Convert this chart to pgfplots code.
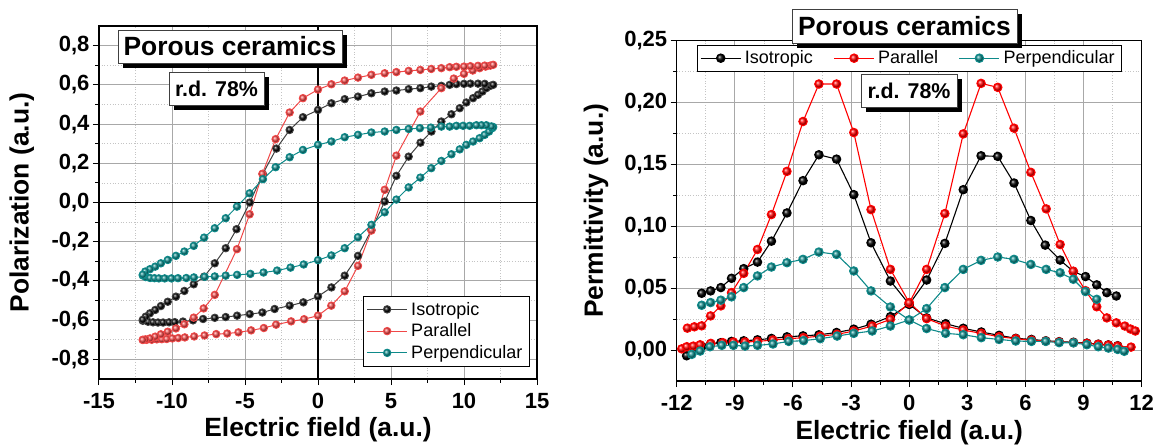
\documentclass[border=0pt]{standalone}
\usepackage{fontspec}
\setmainfont{Liberation Sans}
\usepackage{pgfplots}
\pgfplotsset{compat=1.18}
\usetikzlibrary{shadows}
\definecolor{cred}{HTML}{F04848}
\definecolor{cteal}{HTML}{0E8A8A}
\definecolor{gridgray}{HTML}{A8A8A8}
\definecolor{mgridgray}{HTML}{C4C4C4}
\pgfplotsset{
  common/.style={
    scale only axis,
    anchor=south west,
    axis line style={black, line width=1.1pt},
    tick align=outside,
    major tick length=6pt,
    minor tick length=3.5pt,
    every tick/.style={black, line width=1pt},
    xtick pos=bottom, ytick pos=left,
    grid=both,
    major grid style={gridgray, line width=0.9pt},
    minor grid style={mgridgray, line width=0.7pt, dotted},
    minor x tick num=1, minor y tick num=1,
    tick label style={font=\fontsize{22}{25}\selectfont\bfseries},
    xticklabel={\pgfmathprintnumber[assume math mode=true]{\tick}},
    yticklabel={\pgfmathprintnumber[assume math mode=true]{\tick}},
    xticklabel style={yshift=-5pt},
    label style={font=\fontsize{26.4}{30}\selectfont\bfseries},
    legend style={font=\fontsize{18}{21}\selectfont, draw=black, fill=white,
      inner xsep=3pt, inner ysep=2pt, row sep=0pt, nodes={inner sep=3.6pt}},
    legend cell align=left,
    legend image code/.code={\draw[mark repeat=2,mark phase=2,##1] plot coordinates {(0pt,0pt) (20pt,0pt) (40pt,0pt)};},
  },
}
\tikzset{
  box/.style={draw=black!75, line width=0.8pt, fill=white, inner sep=0pt,
    drop shadow={shadow xshift=5pt, shadow yshift=-5pt, fill=black, opacity=1}},
}
\begin{document}
\begin{tikzpicture}
% ---------------- left: hysteresis ----------------
\begin{axis}[common, at={(99pt,66pt)}, width=438pt, height=353pt,
  xmin=-15, xmax=15, ymin=-0.9, ymax=0.9,
  xtick={-15,-10,-5,0,5,10,15},
  ytick={-0.8,-0.6,-0.4,-0.2,0,0.2,0.4,0.6,0.8},
  yticklabel style={/pgf/number format/.cd, fixed, fixed zerofill, precision=1, use comma},
  extra x ticks={0}, extra y ticks={0}, extra x tick labels={}, extra y tick labels={},
  extra tick style={grid=major, major grid style={black, line width=1.1pt}, major tick length=0pt},
  xlabel={Electric field (a.u.)}, ylabel={Polarization (a.u.)},
  xlabel style={at={(axis description cs:0.5,-0.1445)}, anchor=center},
  ylabel style={at={(axis description cs:-0.176,0.5)}, anchor=center},
  legend style={at={(0.982,0.037)}, anchor=south east},
]
\addplot[color=black!75, line width=1pt, mark=ball, mark size=3.7pt, mark options={ball color=black}] coordinates {
(-12.0,-0.603) (-11.64,-0.608) (-11.3,-0.611) (-10.96,-0.612) (-10.61,-0.612) (-10.2,-0.611) (-9.81,-0.610) (-9.25,-0.607) (-8.56,-0.601) (-7.87,-0.594) (-7.07,-0.588) (-6.32,-0.584) (-5.54,-0.577) (-4.67,-0.569) (-3.81,-0.561) (-2.97,-0.543) (-1.94,-0.526) (-1.0,-0.509) (0,-0.479) (0.92,-0.433) (1.83,-0.373) (2.74,-0.272) (3.66,-0.14) (4.57,0.005) (5.37,0.136) (6.21,0.234) (7.02,0.305) (7.77,0.362) (8.45,0.413) (9.14,0.45) (9.71,0.481) (10.16,0.51) (10.62,0.532) (10.96,0.549) (11.26,0.566) (11.53,0.583) (11.81,0.595) (12.0,0.600)
(11.42,0.605) (10.96,0.606) (10.44,0.606) (10.0,0.605) (9.48,0.604) (9.02,0.600) (8.45,0.595) (7.76,0.591) (7.01,0.583) (6.21,0.578) (5.37,0.571) (4.57,0.566) (3.66,0.557) (2.74,0.540) (1.83,0.527) (0.92,0.506) (0,0.472) (-1.03,0.435) (-1.94,0.37) (-2.85,0.275) (-3.78,0.146) (-4.67,0.0) (-5.58,-0.136) (-6.32,-0.233) (-7.07,-0.31) (-7.8,-0.378) (-8.51,-0.417) (-9.15,-0.451) (-9.73,-0.48) (-10.29,-0.506) (-10.76,-0.528) (-11.15,-0.548) (-11.51,-0.565) (-11.8,-0.582) (-12.0,-0.598)
};
\addlegendentry{Isotropic}
\addplot[color=cred, line width=1pt, mark=ball, mark size=3.7pt, mark options={ball color=cred}] coordinates {
(-12.0,-0.700) (-11.73,-0.700) (-11.39,-0.700) (-11.04,-0.698) (-10.7,-0.697) (-10.36,-0.696) (-9.98,-0.693) (-9.57,-0.691) (-9.12,-0.688) (-8.48,-0.683) (-7.77,-0.678) (-6.97,-0.671) (-6.22,-0.668) (-5.45,-0.662) (-4.58,-0.652) (-3.71,-0.640) (-2.87,-0.623) (-1.84,-0.606) (-0.95,-0.595) (0,-0.577) (0.91,-0.526) (1.83,-0.453) (2.74,-0.323) (3.66,-0.143) (4.57,0.065) (5.37,0.239) (7.01,0.464) (8.45,0.583) (9.3,0.632) (10.0,0.656) (10.6,0.673) (11.07,0.685) (11.48,0.693) (11.8,0.698) (12.0,0.702)
(11.42,0.698) (10.96,0.697) (10.44,0.695) (10.0,0.693) (9.48,0.692) (9.02,0.690) (8.45,0.685) (7.76,0.681) (7.01,0.676) (6.21,0.671) (5.37,0.665) (4.57,0.659) (3.66,0.651) (2.74,0.637) (1.83,0.622) (0.92,0.603) (0,0.576) (-1.03,0.532) (-1.94,0.459) (-2.9,0.323) (-3.81,0.146) (-4.68,-0.06) (-5.55,-0.238) (-7.07,-0.471) (-7.83,-0.54) (-8.51,-0.587) (-9.15,-0.621) (-9.73,-0.642) (-10.29,-0.659) (-10.76,-0.672) (-11.15,-0.684) (-11.51,-0.693) (-11.83,-0.698) (-12.0,-0.701)
};
\addlegendentry{Parallel}
\addplot[color=cteal, line width=1pt, mark=ball, mark size=3.7pt, mark options={ball color=cteal}] coordinates {
(-12.0,-0.372) (-11.8,-0.38) (-11.5,-0.385) (-11.2,-0.386) (-10.9,-0.387) (-10.5,-0.387) (-10.04,-0.387) (-9.59,-0.386) (-9.02,-0.385) (-8.5,-0.382) (-7.76,-0.379) (-7.07,-0.377) (-6.32,-0.373) (-5.54,-0.369) (-4.63,-0.364) (-3.73,-0.357) (-2.8,-0.347) (-1.88,-0.332) (-0.98,-0.316) (0,-0.294) (0.92,-0.27) (1.83,-0.233) (2.74,-0.177) (3.66,-0.114) (4.57,-0.05) (5.37,0.015) (6.21,0.077) (7.01,0.127) (7.76,0.175) (8.45,0.212) (9.14,0.246) (9.71,0.271) (10.16,0.294) (10.62,0.311) (11.07,0.328) (11.42,0.345) (11.72,0.362) (11.93,0.379) (12.0,0.385)
(11.88,0.388) (11.53,0.394) (11.2,0.394) (10.85,0.394) (10.39,0.391) (9.94,0.391) (9.48,0.391) (9.02,0.387) (8.45,0.387) (7.73,0.382) (6.98,0.379) (6.21,0.375) (5.37,0.370) (4.57,0.362) (3.66,0.357) (2.74,0.345) (1.83,0.333) (0.92,0.311) (0,0.294) (-1.03,0.268) (-1.94,0.231) (-2.9,0.18) (-3.77,0.119) (-4.68,0.047) (-5.55,-0.021) (-6.32,-0.08) (-7.07,-0.131) (-7.8,-0.179) (-8.51,-0.221) (-9.15,-0.25) (-9.73,-0.272) (-10.29,-0.293) (-10.76,-0.31) (-11.15,-0.327) (-11.51,-0.34) (-11.83,-0.352) (-12.0,-0.368)
};
\addlegendentry{Perpendicular}
\end{axis}
% ---------------- right: permittivity ----------------
\begin{axis}[common, at={(676.7pt,64pt)}, width=465pt, height=340.3pt,
  xmin=-12, xmax=12, ymin=-0.025, ymax=0.25,
  xtick={-12,-9,-6,-3,0,3,6,9,12},
  ytick={0,0.05,0.1,0.15,0.2,0.25},
  scaled y ticks=false,
  yticklabel style={/pgf/number format/.cd, fixed, fixed zerofill, precision=2, use comma},
  xlabel={Electric field (a.u.)}, ylabel={Permittivity (a.u.)},
  xlabel style={at={(axis description cs:0.5,-0.153)}, anchor=center},
  ylabel style={at={(axis description cs:-0.1735,0.5)}, anchor=center},
  legend columns=3,
  legend style={at={(0.5,0.987)}, anchor=north, /tikz/every even column/.append style={column sep=17pt}},
]
\addplot[color=black, line width=1.1pt, mark=ball, mark size=4.2pt, mark options={ball color=black}] coordinates {
(-10.71,0.0459) (-10.25,0.0478) (-9.72,0.0505) (-9.17,0.058) (-8.54,0.0658) (-7.83,0.0711) (-7.11,0.088) (-6.31,0.1108) (-5.48,0.1369) (-4.66,0.1578) (-3.75,0.1543) (-2.86,0.1256) (-1.97,0.0867) (-0.97,0.0558) (0,0.037) (0.9,0.026) (1.88,0.0213) (2.79,0.0176) (3.72,0.0146) (4.64,0.0119) (5.5,0.0095) (6.31,0.0086) (7.05,0.0075) (7.74,0.0068) (8.48,0.0063) (9.17,0.0056) (9.76,0.0048) (10.28,0.0042) (10.76,0.0035)
};
\addlegendentry{Isotropic}
\addplot[forget plot, color=black, line width=1.1pt, mark=ball, mark size=4.2pt, mark options={ball color=black}] coordinates {
(-11.49,-0.0046) (-11.1,0.0015) (-10.71,0.003) (-10.25,0.005) (-9.72,0.006) (-9.17,0.007) (-8.54,0.0075) (-7.83,0.0083) (-7.11,0.0094) (-6.31,0.0107) (-5.48,0.0115) (-4.66,0.0123) (-3.75,0.0142) (-2.86,0.0169) (-1.97,0.0209) (-0.97,0.027) (0,0.037) (0.9,0.0566) (1.84,0.0862) (2.79,0.1296) (3.71,0.157) (4.57,0.1565) (5.41,0.135) (6.28,0.1047) (7.02,0.0848) (7.79,0.0727) (8.47,0.0635) (9.1,0.0594) (9.68,0.0527) (10.2,0.0464) (10.69,0.0437)
};
\addplot[color=red, line width=1.1pt, mark=ball, mark size=4.2pt, mark options={ball color=red}] coordinates {
(-11.45,0.0177) (-11.09,0.0188) (-10.71,0.0196) (-10.25,0.0276) (-9.72,0.0357) (-9.17,0.0464) (-8.54,0.062) (-7.83,0.0813) (-7.11,0.1095) (-6.31,0.1444) (-5.48,0.1847) (-4.66,0.215) (-3.75,0.215) (-2.86,0.1758) (-1.97,0.1135) (-0.97,0.0652) (0,0.0384) (0.9,0.0254) (1.88,0.0194) (2.79,0.0162) (3.72,0.0135) (4.64,0.0108) (5.5,0.0092) (6.31,0.008) (7.05,0.0072) (7.74,0.0065) (8.48,0.006) (9.17,0.0054) (9.76,0.0046) (10.28,0.004) (10.76,0.0032) (11.45,0.0024)
};
\addlegendentry{Parallel}
\addplot[forget plot, color=red, line width=1.1pt, mark=ball, mark size=4.2pt, mark options={ball color=red}] coordinates {
(-11.74,0.001) (-11.48,0.0027) (-11.14,0.0032) (-10.79,0.0043) (-10.24,0.0054) (-9.62,0.006) (-9.07,0.0065) (-8.47,0.0065) (-7.83,0.007) (-7.03,0.0081) (-6.22,0.0092) (-5.45,0.01) (-4.59,0.0113) (-3.72,0.0127) (-2.86,0.0154) (-1.91,0.0194) (-0.97,0.0248) (0,0.038) (0.9,0.0652) (1.84,0.1103) (2.79,0.1747) (3.71,0.2155) (4.57,0.2123) (5.41,0.1793) (6.28,0.1436) (7.07,0.1141) (7.79,0.0853) (8.47,0.0637) (9.1,0.048) (9.68,0.035) (10.2,0.026) (10.69,0.022) (11.13,0.0194) (11.42,0.017) (11.67,0.0154)
};
\addplot[color=cteal, line width=1.1pt, mark=ball, mark size=4.2pt, mark options={ball color=cteal}] coordinates {
(-10.71,0.0362) (-10.25,0.0384) (-9.72,0.0403) (-9.17,0.043) (-8.54,0.0505) (-7.83,0.0599) (-7.11,0.0671) (-6.31,0.0706) (-5.48,0.0733) (-4.66,0.0792) (-3.75,0.0773) (-2.86,0.0639) (-1.97,0.0478) (-0.97,0.0348) (0,0.0243) (0.9,0.0174) (1.88,0.0135) (2.79,0.0124) (3.72,0.010) (4.64,0.0086) (5.5,0.0073) (6.31,0.007) (7.05,0.007) (7.74,0.006) (8.48,0.0058) (9.17,0.0043) (9.76,0.0027) (10.28,0.0016) (10.76,0.0005) (11.1,-0.001)
};
\addlegendentry{Perpendicular}
\addplot[forget plot, color=cteal, line width=1.1pt, mark=ball, mark size=4.2pt, mark options={ball color=cteal}] coordinates {
(-11.22,-0.0035) (-10.79,-0.0008) (-10.28,0.0027) (-9.67,0.0038) (-9.07,0.0038) (-8.47,0.0032) (-7.83,0.0038) (-7.03,0.0049) (-6.22,0.007) (-5.45,0.0076) (-4.59,0.0092) (-3.72,0.0113) (-2.86,0.0135) (-1.91,0.0154) (-0.97,0.0194) (0,0.0243) (0.9,0.0335) (1.84,0.0505) (2.79,0.0652) (3.71,0.0725) (4.57,0.0752) (5.41,0.0733) (6.28,0.0692) (7.07,0.0652) (7.79,0.0625) (8.47,0.0572) (9.1,0.0473) (9.68,0.041)
};
\end{axis}
% ---------------- boxes ----------------
\node[box, minimum width=224pt, minimum height=33pt, font=\fontsize{26.4}{30}\selectfont\bfseries] at (230pt,398.5pt) {Porous ceramics};
\node[box, minimum width=95pt, minimum height=33pt, font=\fontsize{21.4}{25}\selectfont\bfseries] at (216.5pt,356.5pt) {r.d. 78\%};
\node[box, minimum width=225pt, minimum height=34pt, font=\fontsize{26.4}{30}\selectfont\bfseries] at (904.5pt,419pt) {Porous ceramics};
\node[box, minimum width=96pt, minimum height=33pt, font=\fontsize{21.4}{25}\selectfont\bfseries] at (909pt,354.5pt) {r.d. 78\%};
\pgfresetboundingbox
\path[use as bounding box] (0pt,0pt) rectangle (1156pt,445pt);
\end{tikzpicture}
\end{document}
